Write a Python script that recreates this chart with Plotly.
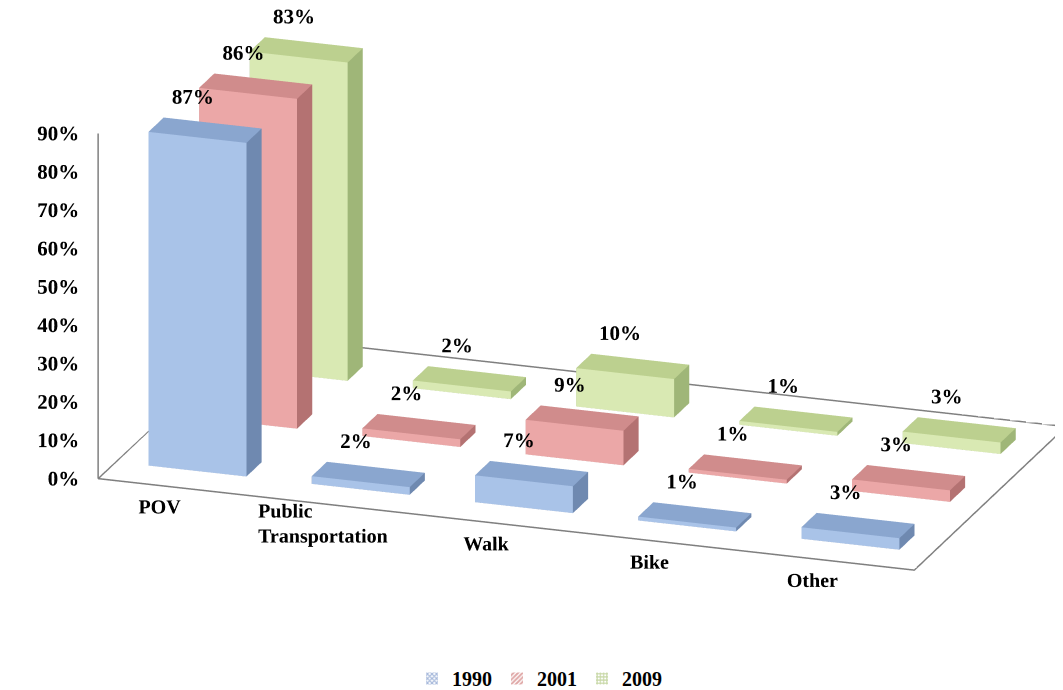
import plotly.graph_objects as go

# mode share by year (percent)
categories = ["POV", "Public<br>Transportation", "Walk", "Bike", "Other"]
years = ["1990", "2001", "2009"]
share_1990 = [87, 2, 7, 1, 3]
share_2001 = [86, 2, 9, 1, 3]
share_2009 = [83, 2, 10, 1, 3]
z_ticks = [0, 10, 20, 30, 40, 50, 60, 70, 80, 90]
z_tick_labels = ["0%", "10%", "20%", "30%", "40%", "50%", "60%", "70%", "80%", "90%"]

# face colours: front, top, side
palette = {
    "1990": ("#a9c3e8", "#8aa6cf", "#6f89b0"),
    "2001": ("#eba7a7", "#d08c8c", "#b47272"),
    "2009": ("#d9e9b3", "#bcd08f", "#9fb678"),
}
legend_pattern = {"1990": ("#4f74b8", "x"), "2001": ("#c0504d", "/"), "2009": ("#8fb04c", "+")}

FONT = "Liberation Serif"
TXT = 21
BW, BD = 0.30, 0.15   # half width / half depth of a bar
Y_LO, Z_HI = -1.0, 100  # room for the category labels / top value labels


def box_mesh(values, row, colors):
    xs, ys, zs, ii, jj, kk, fc = [], [], [], [], [], [], []
    front, top, side = colors
    for col, v in enumerate(values):
        x0, x1 = col - BW, col + BW
        y0, y1 = row - BD, row + BD
        base = len(xs)
        for (x, y, z) in [(x0, y0, 0), (x1, y0, 0), (x1, y1, 0), (x0, y1, 0),
                          (x0, y0, v), (x1, y0, v), (x1, y1, v), (x0, y1, v)]:
            xs.append(x); ys.append(y); zs.append(z)
        faces = [((0, 1, 2), side), ((0, 2, 3), side),
                 ((4, 5, 6), top), ((4, 6, 7), top),
                 ((0, 1, 5), front), ((0, 5, 4), front),
                 ((3, 2, 6), side), ((3, 6, 7), side),
                 ((0, 3, 7), side), ((0, 7, 4), side),
                 ((1, 2, 6), side), ((1, 6, 5), side)]
        for (a, b, c), colr in faces:
            ii.append(base + a); jj.append(base + b); kk.append(base + c); fc.append(colr)
    return xs, ys, zs, ii, jj, kk, fc


fig = go.Figure()

series = [share_1990, share_2001, share_2009]
for row, (yr, vals) in enumerate(zip(years, series)):
    xs, ys, zs, ii, jj, kk, fc = box_mesh(vals, row, palette[yr])
    fig.add_trace(go.Mesh3d(
        x=xs, y=ys, z=zs, i=ii, j=jj, k=kk, facecolor=fc,
        flatshading=True, showlegend=False, hoverinfo="skip",
        lighting=dict(ambient=1, diffuse=0, specular=0, roughness=1, fresnel=0),
    ))
    # value labels
    fig.add_trace(go.Scatter3d(
        x=[c - 0.08 for c in range(len(vals))], y=[row] * len(vals), z=[v + 1 for v in vals],
        mode="text", text=[f"<b>{v}%</b>" for v in vals], textposition="top center",
        textfont=dict(family=FONT, size=TXT, color="black"),
        showlegend=False, hoverinfo="skip",
    ))

# floor outline + vertical axis
nx, ny = len(categories), len(years)
fig.add_trace(go.Scatter3d(
    x=[-0.5, nx - 0.5, nx - 0.5, -0.5, -0.5, -0.5, -0.5],
    y=[-0.5, -0.5, ny - 0.5, ny - 0.5, -0.5, -0.5, -0.5],
    z=[0, 0, 0, 0, 0, 0, 90],
    mode="lines", line=dict(color="#7f7f7f", width=3),
    showlegend=False, hoverinfo="skip",
))

# z tick labels on the front-left edge
fig.add_trace(go.Scatter3d(
    x=[-0.5] * len(z_ticks), y=[-0.5] * len(z_ticks), z=z_ticks,
    mode="text", text=[f"<b>{t}</b>" for t in z_tick_labels], textposition="middle left",
    textfont=dict(family=FONT, size=TXT, color="black"),
    showlegend=False, hoverinfo="skip",
))

# category labels in front of the floor
fig.add_trace(go.Scatter3d(
    x=list(range(nx)), y=[-0.9] * nx, z=[0] * nx,
    mode="text", text=[f"<b>{c}</b>" for c in categories], textposition="middle center",
    textfont=dict(family=FONT, size=TXT - 1, color="black"),
    showlegend=False, hoverinfo="skip",
))

# legend entries (patterned swatches)
for yr in years:
    colr, shp = legend_pattern[yr]
    fig.add_trace(go.Bar(
        x=[None], y=[None], name=yr,
        marker=dict(color="white", line=dict(width=0),
                    pattern=dict(shape=shp, fgcolor=colr, size=4, solidity=0.6)),
    ))

# camera: azimuth ~19 deg, elevation ~19 deg, orthographic
view_dir = (0.3078, -0.894, 0.3256)
dist = 2.0
ctr = (-0.0679, -0.0867, -0.1739)

hidden = dict(visible=False, showgrid=False, zeroline=False, showbackground=False,
              showspikes=False)
fig.update_layout(
    width=1063, height=690,
    paper_bgcolor="white", plot_bgcolor="white",
    margin=dict(l=0, r=0, t=0, b=0),
    font=dict(family=FONT, size=TXT, color="black"),
    xaxis=dict(visible=False), yaxis=dict(visible=False),
    scene=dict(
        domain=dict(x=[0, 1], y=[0.06, 1]),
        xaxis=dict(hidden, range=[-0.5, nx - 0.5]),
        yaxis=dict(hidden, range=[Y_LO, ny - 0.5]),
        zaxis=dict(hidden, range=[0, Z_HI]),
        aspectmode="manual",
        aspectratio=dict(x=2.66, y=1.676, z=1.25),
        camera=dict(
            eye=dict(x=ctr[0] + dist * view_dir[0], y=ctr[1] + dist * view_dir[1],
                     z=ctr[2] + dist * view_dir[2]),
            center=dict(x=ctr[0], y=ctr[1], z=ctr[2]),
            up=dict(x=0, y=0, z=1),
            projection=dict(type="orthographic"),
        ),
        bgcolor="white",
    ),
    showlegend=True,
    legend=dict(orientation="h", x=0.5, xanchor="center", y=0.0, yanchor="bottom",
                font=dict(family=FONT, size=TXT - 1, color="black", weight="bold")),
)

fig.write_html("out.html")
